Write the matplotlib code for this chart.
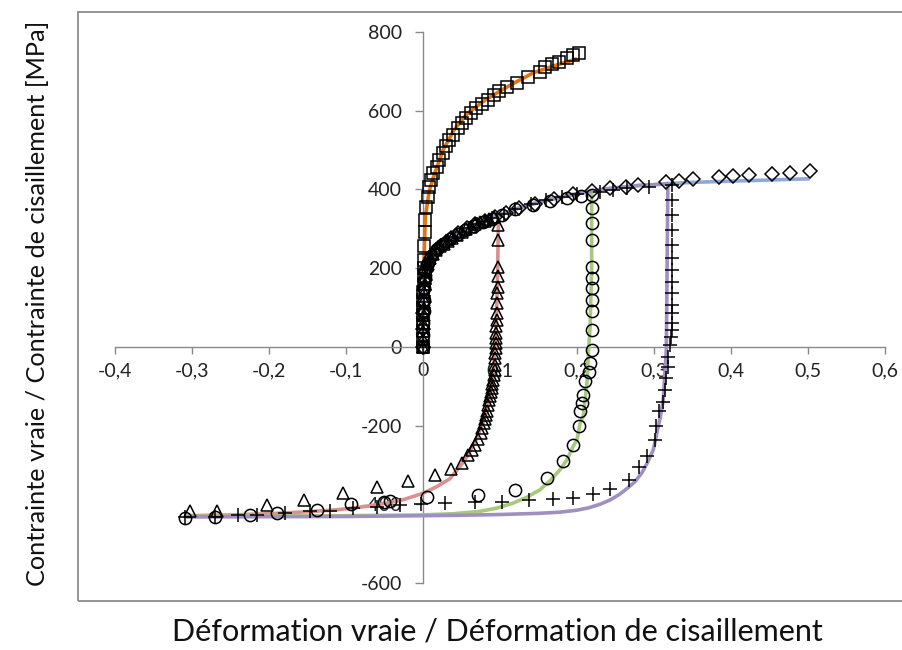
import matplotlib
matplotlib.use("Agg")
import matplotlib.pyplot as plt
from matplotlib.patches import Rectangle
from matplotlib.ticker import FuncFormatter, FixedLocator

# ---------------- data ----------------
# tension test (squares) and model (orange)
sq_x = [0.0, 0.0, 0.0, 0.0, 0.0, 0.0005, 0.0005, 0.0005, 0.001, 0.001, 0.001,
        0.001, 0.001, 0.002, 0.002, 0.004, 0.006, 0.008, 0.011, 0.013, 0.018,
        0.021, 0.026, 0.030, 0.034, 0.039, 0.045, 0.050, 0.056, 0.062, 0.069,
        0.076, 0.084, 0.092, 0.099, 0.109, 0.122, 0.137, 0.152, 0.159, 0.167,
        0.177, 0.187, 0.195, 0.203]
sq_y = [0, 20, 40, 60, 80, 100, 120, 140, 160, 180, 200, 221, 255, 293, 323,
        356, 382, 407, 424, 441, 458, 475, 492, 510, 526, 538, 555, 568, 581,
        593, 606, 616, 627, 640, 651, 661, 671, 686, 699, 712, 718, 725, 735,
        741, 746]
orange_x = [0.0, 0.001, 0.003, 0.008, 0.013, 0.026, 0.04, 0.057, 0.08, 0.1,
            0.12, 0.143, 0.17, 0.2]
orange_y = [0, 200, 330, 395, 428, 500, 550, 592, 626, 650, 672, 696, 714, 732]

# shared shear loading path of the model
load_x = [0.0, 0.0005, 0.002, 0.005, 0.01, 0.02, 0.03, 0.04, 0.05, 0.06, 0.07,
          0.08, 0.09, 0.1, 0.12, 0.14, 0.16, 0.18, 0.2, 0.22, 0.24, 0.26, 0.28,
          0.3, 0.32, 0.35, 0.4, 0.45, 0.5]
load_y = [0, 150, 185, 205, 228, 252, 267, 280, 292, 303, 313, 321, 328, 335,
          350, 362, 372, 381, 389, 396, 402, 406, 410, 412, 415, 418, 421, 424,
          427]

# reverse branches of the model
red_x = [0.0, 0.0005, 0.002, 0.005, 0.01, 0.02, 0.03, 0.04, 0.05, 0.06, 0.07,
         0.08, 0.09, 0.098, 0.097, 0.095, 0.091, 0.085, 0.078, 0.068, 0.057,
         0.048, 0.035, 0.018, 0.0, -0.025, -0.047, -0.08, -0.112, -0.15, -0.2,
         -0.25, -0.305]
red_y = [0, 150, 185, 205, 228, 252, 267, 280, 292, 303, 313, 321, 328, 333,
         200, 50, -84, -150, -194, -240, -279, -304, -335, -355, -372, -388,
         -397, -407, -414, -419, -424, -427, -429]
green_x = [0.0, 0.0005, 0.002, 0.005, 0.01, 0.02, 0.04, 0.06, 0.08, 0.1, 0.12,
           0.14, 0.16, 0.18, 0.2, 0.219, 0.219, 0.217, 0.215, 0.213, 0.208,
           0.204, 0.2, 0.195, 0.187, 0.178, 0.165, 0.152, 0.135, 0.117, 0.095,
           0.074, 0.04, 0.0, -0.1, -0.2, -0.305]
green_y = [0, 150, 185, 205, 228, 252, 280, 303, 321, 335, 350, 362, 372, 381,
           389, 396, 200, 50, -8, -92, -177, -194, -236, -253, -287, -312,
           -340, -363, -382, -397, -410, -418, -424, -427, -429, -430, -431]
purple_x = [0.0, 0.0005, 0.002, 0.005, 0.01, 0.02, 0.04, 0.06, 0.08, 0.1, 0.12,
            0.14, 0.16, 0.18, 0.2, 0.22, 0.24, 0.26, 0.28, 0.3, 0.318, 0.317,
            0.316, 0.312, 0.308, 0.299, 0.291, 0.284, 0.275, 0.265, 0.255,
            0.243, 0.23, 0.215, 0.2, 0.178, 0.15, 0.1, 0.048, -0.1, -0.305]
purple_y = [0, 150, 185, 205, 228, 252, 280, 303, 321, 335, 350, 362, 372, 381,
            389, 396, 402, 406, 410, 412, 415, 200, -8, -135, -180, -262, -296,
            -321, -343, -360, -375, -389, -400, -409, -415, -420, -423, -426,
            -428, -431, -432]

# experimental shear points: triangles (prestrain 0.1)
tri_x = [0.0, 0.0, 0.0, 0.0, 0.001, 0.001, 0.001, 0.001, 0.002, 0.002, 0.004,
         0.006, 0.009, 0.013, 0.017, 0.022, 0.027, 0.032, 0.038, 0.044, 0.05,
         0.056, 0.062, 0.068, 0.074, 0.08, 0.086, 0.092, 0.098, 0.098, 0.097,
         0.097, 0.097, 0.096, 0.096, 0.096, 0.096, 0.095, 0.095, 0.095, 0.095,
         0.095, 0.094, 0.094, 0.094, 0.093, 0.092, 0.091, 0.090, 0.089, 0.088,
         0.087, 0.086, 0.085, 0.083, 0.082, 0.081, 0.079, 0.077, 0.075, 0.072,
         0.068, 0.064, 0.058, 0.050, 0.037, 0.016, -0.019, -0.060, -0.104,
         -0.155, -0.203, -0.268, -0.303]
tri_y = [0, 20, 40, 60, 80, 100, 120, 140, 160, 178, 195, 210, 225, 237, 246,
         255, 262, 270, 277, 285, 292, 299, 305, 311, 316, 321, 325, 329, 310,
         272, 204, 179, 153, 136, 111, 86, 69, 52, 35, 22, 9, -3, -16, -29,
         -46, -60, -72, -84, -94, -104, -114, -124, -135, -148, -162, -172,
         -183, -193, -205, -220, -235, -249, -262, -274, -294, -311, -325,
         -342, -356, -372, -389, -401, -418, -418]

# circles (prestrain 0.22)
cir_x = [0.0, 0.0, 0.0, 0.001, 0.001, 0.001, 0.002, 0.003, 0.006, 0.011, 0.018,
         0.026, 0.035, 0.045, 0.055, 0.066, 0.078, 0.09, 0.103, 0.12, 0.143,
         0.165, 0.187, 0.205, 0.219, 0.219, 0.219, 0.219, 0.219, 0.219, 0.219,
         0.219, 0.219, 0.219, 0.219, 0.217, 0.215, 0.210, 0.208, 0.206, 0.204,
         0.202, 0.195, 0.182, 0.161, 0.119, 0.072, 0.005, -0.043, -0.051,
         -0.093, -0.138, -0.190, -0.225, -0.270, -0.309]
cir_y = [0, 30, 60, 90, 120, 150, 175, 195, 212, 232, 248, 262, 274, 287, 297,
         306, 318, 326, 336, 350, 360, 370, 378, 384, 386, 352, 314, 272, 204,
         174, 149, 119, 90, 43, -8, -41, -63, -88, -122, -143, -164, -202,
         -249, -291, -334, -363, -376, -382, -391, -393, -400, -414, -421,
         -427, -432, -434]

# pluses (prestrain 0.32)
plu_x = [0.0, 0.0, 0.0, 0.001, 0.001, 0.002, 0.003, 0.005, 0.008, 0.012, 0.017,
         0.023, 0.03, 0.04, 0.05, 0.06, 0.07, 0.08, 0.09, 0.105, 0.12, 0.14,
         0.16, 0.18, 0.2, 0.23, 0.247, 0.265, 0.293, 0.323, 0.323, 0.323,
         0.323, 0.323, 0.323, 0.323, 0.323, 0.323, 0.323, 0.323, 0.323, 0.323,
         0.322, 0.321, 0.318, 0.318, 0.316, 0.314, 0.312, 0.307, 0.303, 0.301,
         0.291, 0.281, 0.267, 0.243, 0.221, 0.195, 0.169, 0.138, 0.103, 0.068,
         0.029, -0.003, -0.030, -0.060, -0.091, -0.121, -0.147, -0.179,
         -0.216, -0.240, -0.270, -0.309]
plu_y = [0, 35, 70, 100, 130, 160, 185, 202, 218, 236, 248, 259, 268, 280, 292,
         303, 313, 321, 328, 338, 350, 362, 372, 381, 389, 394, 399, 404, 407,
         411, 373, 335, 297, 259, 225, 196, 166, 136, 107, 86, 60, 43, 26, 5,
         -25, -50, -80, -109, -139, -164, -202, -236, -277, -304, -338, -361,
         -373, -384, -387, -390, -393, -393, -397, -400, -401, -406, -410,
         -418, -418, -423, -427, -427, -432, -432]

# diamonds (monotonic shear)
dia_x = [0.0, 0.0, 0.0, 0.001, 0.001, 0.002, 0.004, 0.007, 0.01, 0.015, 0.02,
         0.028, 0.036, 0.046, 0.057, 0.068, 0.08, 0.093, 0.108, 0.125, 0.145,
         0.17, 0.195, 0.219, 0.243, 0.264, 0.279, 0.316, 0.332, 0.351, 0.384,
         0.403, 0.423, 0.453, 0.476, 0.502]
dia_y = [0, 45, 85, 115, 145, 170, 192, 210, 225, 240, 252, 264, 276, 289, 301,
         311, 321, 331, 341, 352, 364, 376, 388, 396, 403, 407, 411, 420, 422,
         426, 431, 434, 437, 439, 443, 448]

x_ticks = [-0.4, -0.3, -0.2, -0.1, 0.0, 0.1, 0.2, 0.3, 0.4, 0.5, 0.6]
y_ticks = [-600, -400, -200, 0, 200, 400, 600, 800]

# ---------------- figure ----------------
W, H = 903, 650
fig = plt.figure(figsize=(W / 100, H / 100), dpi=100)
FONT = "Lato"
plt.rcParams["font.family"] = [FONT, "DejaVu Sans"]

# plot-area border (Excel style)
fig.patches.append(Rectangle((78 / W, 1 - 601 / H), (W - 78 + 5) / W, (601 - 12) / H,
                             transform=fig.transFigure, fill=False,
                             edgecolor="#8c8c8c", linewidth=1.3))

ax = fig.add_axes([115 / W, 1 - 583 / H, 770 / W, 551 / H])
ax.set_xlim(-0.4, 0.6)
ax.set_ylim(-600, 800)
ax.patch.set_alpha(0)

for s in ["top", "right"]:
    ax.spines[s].set_visible(False)
ax.spines["left"].set_position(("data", 0))
ax.spines["bottom"].set_position(("data", 0))
for s in ["left", "bottom"]:
    ax.spines[s].set_color("#8a8a8a")
    ax.spines[s].set_linewidth(1.0)

ax.xaxis.set_major_locator(FixedLocator(x_ticks))
ax.yaxis.set_major_locator(FixedLocator(y_ticks))


def xfmt(v, p):
    if abs(v) < 1e-9:
        return "0"
    return ("%.1f" % v).replace(".", ",")


ax.xaxis.set_major_formatter(FuncFormatter(xfmt))
ax.yaxis.set_major_formatter(FuncFormatter(lambda v, p: "%d" % v))
ax.tick_params(axis="x", direction="out", length=5, width=1.0, color="#8a8a8a",
               labelsize=14, labelcolor="#222222", pad=6)
ax.tick_params(axis="y", direction="out", length=6, width=1.0, color="#8a8a8a",
               labelsize=14, labelcolor="#222222", pad=9)

lw = 2.6
ax.plot(orange_x, orange_y, color="#E3740F", lw=lw, zorder=3, solid_capstyle="butt")
ax.plot(load_x, load_y, color="#8FA9D6", lw=lw, zorder=3)
ax.plot(red_x, red_y, color="#D9908E", lw=lw, zorder=3)
ax.plot(green_x, green_y, color="#A9C77F", lw=lw, zorder=3)
ax.plot(purple_x, purple_y, color="#A090C0", lw=lw, zorder=3)

mk = dict(linestyle="none", markerfacecolor="none", markeredgecolor="black",
          markeredgewidth=1.1, zorder=4)
ax.plot(sq_x, sq_y, marker="s", markersize=8.3, **mk)
ax.plot(dia_x, dia_y, marker="D", markersize=7, **mk)
ax.plot(tri_x, tri_y, marker="^", markersize=9, **mk)
ax.plot(cir_x, cir_y, marker="o", markersize=8.8, **mk)
ax.plot(plu_x, plu_y, marker="+", markersize=10, **mk)

fig.text(497 / W, 1 - 632 / H, "Déformation vraie / Déformation de cisaillement",
         ha="center", va="center", fontsize=22, color="#111111")
fig.text(38 / W, 1 - 303 / H, "Contrainte vraie / Contrainte de cisaillement [MPa]",
         ha="center", va="center", rotation=90, fontsize=18.2, color="#111111")

fig.savefig("out.png", dpi=100)
